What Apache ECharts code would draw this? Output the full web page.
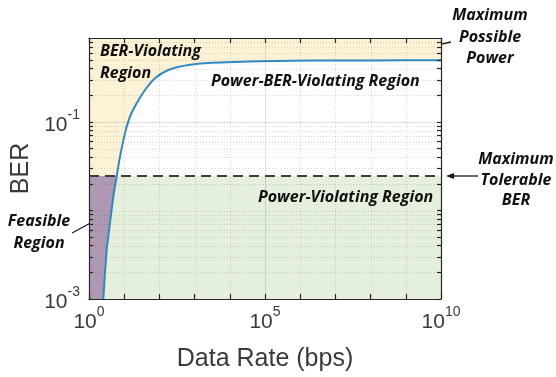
<!DOCTYPE html>
<html>
<head>
<meta charset="utf-8">
<script src="https://cdn.jsdelivr.net/npm/echarts@6/dist/echarts.min.js"></script>
<style>
  html, body { margin: 0; padding: 0; background: #ffffff; }
  #chart { width: 556px; height: 377px; }
</style>
</head>
<body>
<div id="chart"></div>
<script>
// Bit error rate reached at each data rate
const dataRate  = [2.55, 3.18, 3.53, 4.9, 6.12, 7.6, 10.5, 14.6, 22.6, 39, 75, 179, 662, 3060, 21800, 2e5, 2e6, 1e8, 1e10];
const berValues = [0.001, 0.0036, 0.00506, 0.0143, 0.0245, 0.0406, 0.0744, 0.115, 0.163, 0.23, 0.312, 0.387, 0.441, 0.468, 0.48, 0.49, 0.495, 0.497, 0.498];

// Threshold and axis ranges
const maxTolerableBer = 0.0245;
const rateRange = [1, 1e10];
const berRange = [0.001, 0.89];

// Tick labels and major grid positions
const xLabelValues = [1, 1e5, 1e10];
const yLabelValues = [0.001, 0.1];
const xMajorGrid = [1e5];
const yMajorGrid = [0.1];

// Decade ticks on the rate axis, 1..9 x 10^k ticks on the BER axis
const xTickValues = [];
for (let k = 0; k <= 10; k++) xTickValues.push(Math.pow(10, k));
const yTickValues = [];
for (let d = -3; d <= -1; d++) {
  for (let m = 1; m <= 9; m++) {
    const v = m * Math.pow(10, d);
    if (v <= berRange[1] + 1e-12) yTickValues.push(+v.toPrecision(3));
  }
}

const curve = dataRate.map((r, i) => [r, berValues[i]]);
const belowTolerable = dataRate.map((r, i) => [r, Math.min(berValues[i], maxTolerableBer)]);

// Grid lines: [x, y, orientation (0 horizontal, 1 vertical), major flag]
const gridItems = [];
xTickValues.forEach(v => {
  if (v > rateRange[0] && v < rateRange[1]) gridItems.push([v, berRange[0], 1, xMajorGrid.includes(v) ? 1 : 0]);
});
yTickValues.forEach(v => {
  if (v > berRange[0] && v < berRange[1]) gridItems.push([rateRange[0], v, 0, yMajorGrid.includes(v) ? 1 : 0]);
});

function powerLabel(value) {
  const e = Math.round(Math.log10(value));
  return '{b|10}{s|' + e + '}';
}

const tickRich = {
  b: { fontSize: 21, fontFamily: 'Liberation Sans, Arial', color: '#3a3a3a', lineHeight: 28, verticalAlign: 'bottom' },
  s: { fontSize: 14, fontFamily: 'Liberation Sans, Arial', color: '#3a3a3a', lineHeight: 28, verticalAlign: 'top' }
};

const axisLineStyle = { color: '#262626', width: 1.2 };

const annFont = 'italic bold 16px "Open Sans"';
function note(text, x, y, align) {
  return { type: 'text', z: 100, style: { text: text, x: x, y: y, font: annFont, fill: '#111111', align: align || 'left', verticalAlign: 'middle' } };
}
function arrow(x1, y1, x2, y2) {
  const ang = Math.atan2(y2 - y1, x2 - x1);
  const len = 8, half = 3;
  const bx = x2 - len * Math.cos(ang), by = y2 - len * Math.sin(ang);
  const px = -Math.sin(ang) * half, py = Math.cos(ang) * half;
  return {
    type: 'group', z: 100,
    children: [
      { type: 'line', shape: { x1: x1, y1: y1, x2: bx, y2: by }, style: { stroke: '#1a1a1a', lineWidth: 1.3 } },
      { type: 'polygon', shape: { points: [[x2, y2], [bx + px, by + py], [bx - px, by - py]] }, style: { fill: '#1a1a1a' } }
    ]
  };
}

const chart = echarts.init(document.getElementById('chart'), null, { renderer: 'canvas' });

chart.setOption({
  animation: false,
  backgroundColor: '#ffffff',
  grid: { left: 89, right: 115, top: 38, bottom: 78 },
  xAxis: [
    {
      type: 'log', logBase: 10, min: rateRange[0], max: rateRange[1], position: 'bottom', z: 10,
      name: 'Data Rate (bps)', nameLocation: 'middle', nameGap: 48,
      nameTextStyle: { fontSize: 25, fontFamily: 'Liberation Sans, Arial', color: '#3a3a3a' },
      axisLine: { lineStyle: axisLineStyle },
      axisTick: { inside: true, length: 5, lineStyle: axisLineStyle, customValues: xTickValues },
      axisLabel: { margin: 6, customValues: xLabelValues, formatter: powerLabel, rich: tickRich },
      splitLine: { show: false }
    },
    {
      type: 'log', logBase: 10, min: rateRange[0], max: rateRange[1], position: 'top', z: 10,
      axisLine: { lineStyle: axisLineStyle },
      axisTick: { inside: true, length: 5, lineStyle: axisLineStyle, customValues: xTickValues },
      axisLabel: { show: false },
      splitLine: { show: false }
    }
  ],
  yAxis: [
    {
      type: 'log', logBase: 10, min: berRange[0], max: berRange[1], position: 'left', z: 10,
      name: 'BER', nameLocation: 'middle', nameGap: 48,
      nameTextStyle: { fontSize: 25, fontFamily: 'Liberation Sans, Arial', color: '#3a3a3a' },
      axisLine: { lineStyle: axisLineStyle },
      axisTick: { inside: true, length: 4, lineStyle: axisLineStyle, customValues: yTickValues },
      axisLabel: { margin: 9, customValues: yLabelValues, formatter: powerLabel, rich: tickRich },
      splitLine: { show: false }
    },
    {
      type: 'log', logBase: 10, min: berRange[0], max: berRange[1], position: 'right', z: 10,
      axisLine: { lineStyle: axisLineStyle },
      axisTick: { inside: true, length: 4, lineStyle: axisLineStyle, customValues: yTickValues },
      axisLabel: { show: false },
      splitLine: { show: false }
    }
  ],
  series: [
    {
      // Region backgrounds above and below the tolerable BER
      type: 'line', z: 1, silent: true, data: curve, symbol: 'none',
      lineStyle: { opacity: 0 },
      markArea: {
        silent: true,
        data: [
          [{ xAxis: rateRange[0], yAxis: maxTolerableBer, itemStyle: { color: '#fdf2d6' } }, { xAxis: rateRange[1], yAxis: berRange[1] }],
          [{ xAxis: rateRange[0], yAxis: berRange[0], itemStyle: { color: '#ae98b4' } }, { xAxis: rateRange[1], yAxis: maxTolerableBer }]
        ]
      }
    },
    {
      // Under the curve, above the threshold
      type: 'line', z: 2, silent: true, data: curve, symbol: 'none', smooth: 0.3,
      lineStyle: { width: 0 },
      areaStyle: { color: '#ffffff', opacity: 1, origin: 'start' }
    },
    {
      // Under the curve, below the threshold
      type: 'line', z: 3, silent: true, data: belowTolerable, symbol: 'none',
      lineStyle: { width: 0 },
      areaStyle: { color: '#e5f0dc', opacity: 1, origin: 'start' }
    },
    {
      type: 'custom', z: 4, silent: true, data: gridItems,
      encode: { x: 0, y: 1 },
      renderItem: function (params, api) {
        const vertical = api.value(2) === 1;
        const major = api.value(3) === 1;
        let p1, p2;
        if (vertical) {
          p1 = api.coord([api.value(0), berRange[0]]);
          p2 = api.coord([api.value(0), berRange[1]]);
          p1[0] = p2[0] = Math.round(p1[0]) + 0.5;
        } else {
          p1 = api.coord([rateRange[0], api.value(1)]);
          p2 = api.coord([rateRange[1], api.value(1)]);
          p1[1] = p2[1] = Math.round(p1[1]) + 0.5;
        }
        return {
          type: 'line',
          shape: { x1: p1[0], y1: p1[1], x2: p2[0], y2: p2[1] },
          style: major
            ? { stroke: 'rgba(0,0,0,0.12)', lineWidth: 1 }
            : { stroke: 'rgba(0,0,0,0.15)', lineWidth: 1, lineDash: [1, 2] }
        };
      }
    },
    {
      // Maximum tolerable BER
      type: 'line', z: 5, silent: true, symbol: 'none',
      data: [[rateRange[0], maxTolerableBer], [rateRange[1], maxTolerableBer]],
      lineStyle: { color: '#3d3d3d', width: 2, type: [10, 6] }
    },
    {
      type: 'line', z: 6, silent: true, data: curve, symbol: 'none', smooth: 0.3,
      lineStyle: { color: '#3089c4', width: 2 }
    }
  ],
  graphic: [
    note('BER-Violating', 100, 51.5),
    note('Region', 100, 73),
    note('Power-BER-Violating Region', 211, 81),
    note('Power-Violating Region', 258, 197.5),
    note('Feasible', 39, 221.5, 'center'),
    note('Region', 39, 243.5, 'center'),
    note('Maximum', 490, 15, 'center'),
    note('Possible', 490, 37, 'center'),
    note('Power', 490, 58.5, 'center'),
    note('Maximum', 516, 159.5, 'center'),
    note('Tolerable', 516, 180.5, 'center'),
    note('BER', 516, 200.5, 'center'),
    arrow(451, 42, 409, 51),
    arrow(478, 176, 446, 176),
    arrow(72, 233, 98, 219)
  ]
});
</script>
</body>
</html>
